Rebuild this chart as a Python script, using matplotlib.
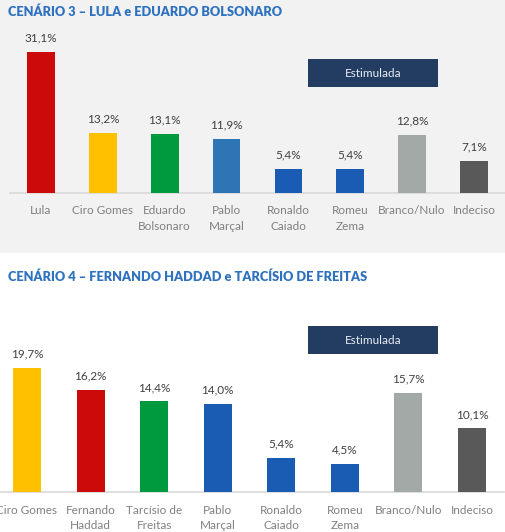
import matplotlib
matplotlib.use("Agg")
import matplotlib.pyplot as plt
from matplotlib.patches import Rectangle

W, H = 505, 532

# ---- data ----
title3 = "CENÁRIO 3 – LULA e EDUARDO BOLSONARO"
cats3 = ["Lula", "Ciro Gomes", "Eduardo\nBolsonaro", "Pablo\nMarçal", "Ronaldo\nCaiado",
         "Romeu\nZema", "Branco/Nulo", "Indeciso"]
vals3 = [31.1, 13.2, 13.1, 11.9, 5.4, 5.4, 12.8, 7.1]
cols3 = ["#cc0a0a", "#ffc000", "#009a3e", "#2e75b6", "#1a5cb4", "#1a5cb4", "#a2a9a7", "#595959"]

title4 = "CENÁRIO 4 – FERNANDO HADDAD e TARCÍSIO DE FREITAS"
cats4 = ["Ciro Gomes", "Fernando\nHaddad", "Tarcísio de\nFreitas", "Pablo\nMarçal", "Ronaldo\nCaiado",
         "Romeu\nZema", "Branco/Nulo", "Indeciso"]
vals4 = [19.7, 16.2, 14.4, 14.0, 5.4, 4.5, 15.7, 10.1]
cols4 = ["#ffc000", "#cc0a0a", "#009a3e", "#1a5cb4", "#1a5cb4", "#1a5cb4", "#a2a9a7", "#595959"]

badge = "Estimulada"

FONT = ["Lato", "DejaVu Sans"]
plt.rcParams["font.family"] = FONT

fig = plt.figure(figsize=(W / 100, H / 100), dpi=100)
fig.patch.set_facecolor("white")

# gray background for top panel
fig.patches.append(Rectangle((0, 1 - 253 / H), 1, 253 / H, transform=fig.transFigure,
                             facecolor="#f2f2f2", edgecolor="none", zorder=-10))


def px_axes(x0, y_top, x1, y_bot):
    return fig.add_axes([x0 / W, 1 - y_bot / H, (x1 - x0) / W, (y_bot - y_top) / H])


def panel(ax, cats, vals, cols, ymax, width, bg):
    x = list(range(len(cats)))
    ax.bar(x, vals, width=width, color=cols, zorder=3)
    ax.set_xlim(-0.5, len(cats) - 0.5)
    ax.set_ylim(0, ymax)
    ax.set_facecolor(bg)
    ax.patch.set_alpha(0)
    for s in ["top", "right", "left"]:
        ax.spines[s].set_visible(False)
    ax.spines["bottom"].set_color("#d9d9d9")
    ax.spines["bottom"].set_linewidth(1.2)
    ax.set_yticks([])
    ax.set_xticks(x)
    ax.set_xticklabels(cats, fontsize=8.5, color="#808080", linespacing=1.55)
    ax.tick_params(axis="x", length=0, pad=9)
    for xi, v in zip(x, vals):
        ax.annotate(f"{v:.1f}%".replace(".", ","), (xi, v), xytext=(0, 6),
                    textcoords="offset points", ha="center", va="bottom",
                    fontsize=8.5, color="#404040")


def badge_box(x0, y0, x1, y1):
    fig.patches.append(Rectangle((x0 / W, 1 - y1 / H), (x1 - x0) / W, (y1 - y0) / H,
                                 transform=fig.transFigure, facecolor="#223c62",
                                 edgecolor="none", zorder=5))
    fig.text((x0 + x1) / 2 / W, 1 - (y0 + y1) / 2 / H, badge, ha="center", va="center",
             fontsize=8.5, color="#e8ecf2", zorder=6)


# top panel
ax1 = px_axes(10.1, 40, 504.9, 193)
panel(ax1, cats3, vals3, cols3, 153 / 4.53, 0.45, "#f2f2f2")
fig.text(8 / W, 1 - 12 / H, title3, ha="left", va="center", fontsize=9.2,
         fontweight="heavy", color="#2e72bf")
badge_box(308, 59, 438, 87)

# bottom panel
ax2 = px_axes(-4.8, 340, 503.8, 492)
panel(ax2, cats4, vals4, cols4, 152 / 6.29, 0.44, "white")
fig.text(8 / W, 1 - 277 / H, title4, ha="left", va="center", fontsize=9.2,
         fontweight="heavy", color="#2e72bf")
badge_box(308, 326, 438, 354)

fig.savefig("out.png", dpi=100)
